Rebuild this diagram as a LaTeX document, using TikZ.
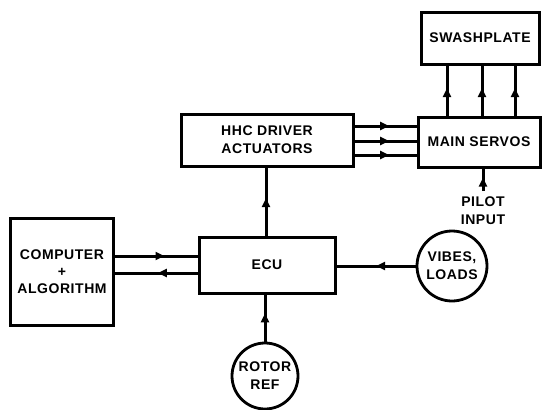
\documentclass[tikz,border=0pt]{standalone}
\usepackage{fontspec}
\setmainfont{Liberation Sans}
\newfontfamily\lblfont[LetterSpace=4]{Liberation Sans}
\usetikzlibrary{arrows.meta,decorations.markings}
\tikzset{
  lbl/.style={font=\lblfont\bfseries\fontsize{14}{18}\selectfont, align=center},
  blk/.style={lbl, draw, line width=3pt, rectangle, inner sep=0pt},
  circ/.style={lbl, draw, line width=2.8pt, circle, inner sep=0pt},
  conn/.style={line width=3pt},
  midarrow/.style={postaction={decorate}, decoration={markings,
      mark=at position #1 with {\arrow{Triangle[length=9pt,width=8pt]}}}},
}
\begin{document}
\begin{tikzpicture}[x=1pt,y=-1pt]
\useasboundingbox (0,0) rectangle (542,410);
% blocks
\node[blk, minimum width=118pt, minimum height=52pt] (swash) at (480,38) {SWASHPLATE};
\node[blk, minimum width=122pt, minimum height=50pt] (servo) at (479,142) {MAIN SERVOS};
\node[blk, minimum width=172pt, minimum height=52pt] (hhc) at (267,140) {HHC DRIVER\\ACTUATORS};
\node[blk, minimum width=136pt, minimum height=56pt] (ecu) at (267,265) {ECU};
\node[blk, minimum width=103pt, minimum height=107pt, font=\lblfont\bfseries\fontsize{14}{17}\selectfont] (comp) at (62,271.5) {COMPUTER\\+\\ALGORITHM};
\node[circ, minimum size=70pt] (vibes) at (452,266) {VIBES,\\LOADS};
\node[circ, minimum size=66pt] (rotor) at (265,376) {ROTOR\\REF};
\node[lbl, inner sep=0pt] (pilot) at (483,211) {PILOT\\INPUT};
% helper coordinates
\coordinate (s1) at (447,0);
\coordinate (s2) at (482,0);
\coordinate (s3) at (515,0);
\coordinate (h1) at (0,126);
\coordinate (h2) at (0,141);
\coordinate (h3) at (0,155);
\coordinate (c1) at (0,256);
\coordinate (c2) at (0,273);
\coordinate (pilottop) at (483,191);
\coordinate (ev) at (266,0);
% connectors
\draw[conn, midarrow=0.55] (servo.north -| s1) -- (swash.south -| s1);
\draw[conn, midarrow=0.55] (servo.north -| s2) -- (swash.south -| s2);
\draw[conn, midarrow=0.55] (servo.north -| s3) -- (swash.south -| s3);
\draw[conn, midarrow=0.56] (hhc.east |- h1) -- (servo.west |- h1);
\draw[conn, midarrow=0.56] (hhc.east |- h2) -- (servo.west |- h2);
\draw[conn, midarrow=0.56] (hhc.east |- h3) -- (servo.west |- h3);
\draw[conn, midarrow=0.6] (pilottop) -- (servo.south -| pilottop);
\draw[conn, midarrow=0.55] (ecu.north -| ev) -- (hhc.south -| ev);
\draw[conn, midarrow=0.6] (comp.east |- c1) -- (ecu.west |- c1);
\draw[conn, midarrow=0.48] (ecu.west |- c2) -- (comp.east |- c2);
\draw[conn, midarrow=0.5] (vibes.west) -- (ecu.east |- vibes.west);
\draw[conn, midarrow=0.6] (rotor.north) -- (ecu.south -| rotor.north);
\end{tikzpicture}
\end{document}
